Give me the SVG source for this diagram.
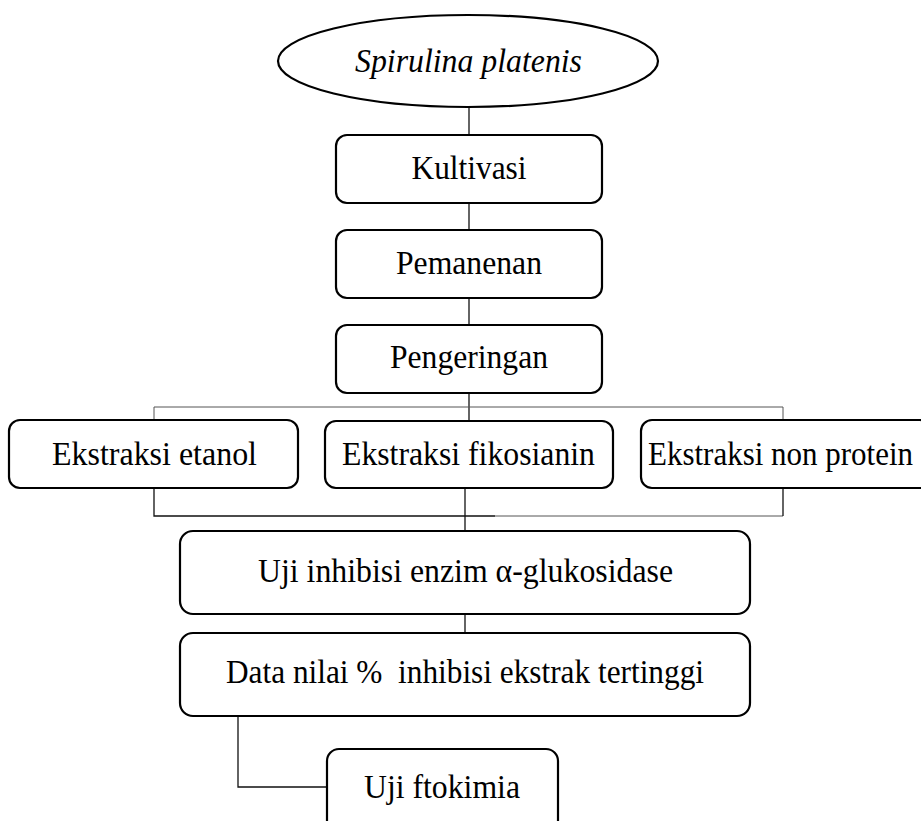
<svg xmlns="http://www.w3.org/2000/svg" width="921" height="821" viewBox="0 0 921 821">
<style>
.box{fill:#fff;stroke:#000;stroke-width:2.2}
.lbl{font-family:"Liberation Serif","Times New Roman",serif;font-size:33.5px;fill:#000;text-anchor:middle}
.it{font-style:italic}
.c{fill:none;stroke:#111;stroke-width:1.3}
.cg{fill:none;stroke:#555;stroke-width:1}
</style>
<rect width="921" height="821" fill="#fff"/>
<g id="connectors">
<line class="c" x1="469" y1="107" x2="469" y2="135"/>
<line class="c" x1="469" y1="203" x2="469" y2="230"/>
<line class="c" x1="469" y1="298" x2="469" y2="325"/>
<line class="c" x1="469" y1="393" x2="469" y2="421"/>
<polyline class="cg" points="154,420 154,407 783,407 783,420"/>
<polyline class="c" points="154,488 154,516 495,516"/>
<line class="cg" x1="495" y1="516" x2="783" y2="516"/>
<line class="c" x1="783" y1="488" x2="783" y2="516"/>
<line class="c" x1="465" y1="488" x2="465" y2="531"/>
<line class="c" x1="465" y1="614" x2="465" y2="633"/>
<polyline class="c" points="238,716 238,787 327,787"/>
</g>
<g id="spirulina">
<ellipse cx="468" cy="61" rx="190" ry="46" fill="#fff" stroke="#000" stroke-width="2.2"/>
<text class="lbl it" x="468.5" y="72" textLength="227" lengthAdjust="spacingAndGlyphs">Spirulina platenis</text>
</g>
<g id="kultivasi">
<rect class="box" x="336" y="135" width="266" height="68" rx="11"/>
<text class="lbl" x="469" y="179" textLength="115" lengthAdjust="spacingAndGlyphs">Kultivasi</text>
</g>
<g id="pemanenan">
<rect class="box" x="336" y="230" width="266" height="68" rx="11"/>
<text class="lbl" x="469" y="274" textLength="146" lengthAdjust="spacingAndGlyphs">Pemanenan</text>
</g>
<g id="pengeringan">
<rect class="box" x="336" y="325" width="266" height="68" rx="11"/>
<text class="lbl" x="469" y="368" textLength="158" lengthAdjust="spacingAndGlyphs">Pengeringan</text>
</g>
<g id="ekstraksi-etanol">
<rect class="box" x="9" y="420" width="289" height="68" rx="11"/>
<text class="lbl" x="154.5" y="465" textLength="205" lengthAdjust="spacingAndGlyphs">Ekstraksi etanol</text>
</g>
<g id="ekstraksi-fikosianin">
<rect class="box" x="325" y="421" width="288" height="67" rx="11"/>
<text class="lbl" x="468.5" y="465" textLength="253" lengthAdjust="spacingAndGlyphs">Ekstraksi fikosianin</text>
</g>
<g id="ekstraksi-non-protein">
<rect class="box" x="641" y="420" width="290" height="68" rx="11"/>
<text class="lbl" x="780.5" y="465" textLength="265" lengthAdjust="spacingAndGlyphs">Ekstraksi non protein</text>
</g>
<g id="uji-inhibisi">
<rect class="box" x="180" y="531" width="570" height="83" rx="13"/>
<text class="lbl" x="465.5" y="582" textLength="415" lengthAdjust="spacingAndGlyphs">Uji inhibisi enzim α-glukosidase</text>
</g>
<g id="data-nilai">
<rect class="box" x="180" y="633" width="570" height="83" rx="13"/>
<text class="lbl" x="465" y="683" textLength="478" lengthAdjust="spacingAndGlyphs" xml:space="preserve">Data nilai %  inhibisi ekstrak tertinggi</text>
</g>
<g id="uji-ftokimia">
<rect class="box" x="327" y="749" width="231" height="90" rx="12"/>
<text class="lbl" x="442" y="798" textLength="156" lengthAdjust="spacingAndGlyphs">Uji ftokimia</text>
</g>
</svg>
